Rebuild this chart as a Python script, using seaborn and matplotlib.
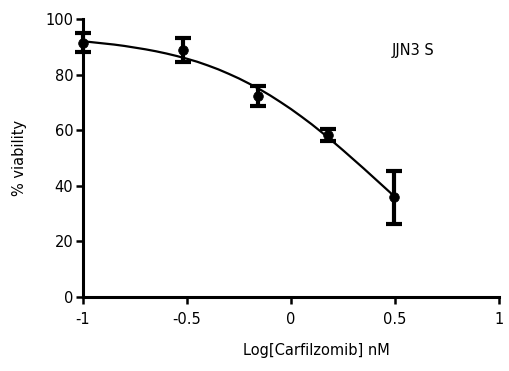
import matplotlib
matplotlib.use("Agg")
import matplotlib.pyplot as plt
import seaborn as sns
import pandas as pd

# Measured points
log_conc = [-1.0, -0.52, -0.157, 0.18, 0.495]
viability = [91.5, 88.8, 72.3, 58.2, 35.9]
sem = [3.3, 4.3, 3.6, 2.1, 9.5]

# Fitted curve
curve_x = [-1.0, -0.95, -0.9, -0.85, -0.8, -0.75, -0.7, -0.65, -0.6, -0.55,
           -0.5, -0.45, -0.4, -0.35, -0.3, -0.25, -0.2, -0.15, -0.1, -0.05,
           0.0, 0.05, 0.1, 0.15, 0.2, 0.25, 0.3, 0.35, 0.4, 0.45, 0.5]
curve_y = [92.0, 91.6, 91.2, 90.8, 90.3, 89.7, 89.1, 88.4, 87.6, 86.7,
           85.7, 84.6, 83.3, 81.9, 80.3, 78.6, 76.7, 74.7, 72.5, 70.1,
           67.6, 64.9, 62.1, 59.1, 56.0, 52.8, 49.5, 46.2, 42.8, 39.4, 36.0]

x_ticks = [-1, -0.5, 0, 0.5, 1]
x_tick_labels = ["-1", "-0.5", "0", "0.5", "1"]
y_ticks = [0, 20, 40, 60, 80, 100]

sns.set_style("ticks")
plt.rcParams['font.family'] = ['DejaVu Sans']
plt.rcParams['text.color'] = 'black'
plt.rcParams['axes.labelcolor'] = 'black'

fig = plt.figure(figsize=(5.10, 3.71), dpi=100)
ax = fig.add_axes([83/510, 1 - 297/371, 416/510, 278/371])

df_curve = pd.DataFrame({"x": curve_x, "y": curve_y})
sns.lineplot(data=df_curve, x="x", y="y", ax=ax, color="black", linewidth=1.6, clip_on=False)

ax.errorbar(log_conc, viability, yerr=sem, fmt="none", ecolor="black",
            elinewidth=3.0, capsize=5.5, capthick=3.0, clip_on=False, zorder=3)
df_pts = pd.DataFrame({"x": log_conc, "y": viability})
sns.scatterplot(data=df_pts, x="x", y="y", ax=ax, color="black", s=48,
                edgecolor="black", clip_on=False, zorder=4)

ax.set_xlim(-1, 1)
ax.set_ylim(0, 100)
ax.set_xticks(x_ticks)
ax.set_xticklabels(x_tick_labels)
ax.set_yticks(y_ticks)

for s in ["top", "right"]:
    ax.spines[s].set_visible(False)
for s in ["left", "bottom"]:
    ax.spines[s].set_linewidth(2.2)
    ax.spines[s].set_color("black")

ax.tick_params(axis="both", direction="out", width=1.8, length=5, labelsize=10.5,
               colors="black", labelcolor="black")
ax.tick_params(axis="x", pad=6)
ax.tick_params(axis="y", pad=2)

ax.set_xlabel("Log[Carfilzomib] nM", fontsize=10.5, labelpad=11, color="black")
ax.xaxis.label.set_x(0.562)
ax.set_ylabel("% viability", fontsize=10.5, labelpad=13, color="black")

ax.text(0.587, 88.5, "JJN3 S", fontsize=10.5, ha="center", va="center", color="black")

fig.savefig("out.png", dpi=100)
